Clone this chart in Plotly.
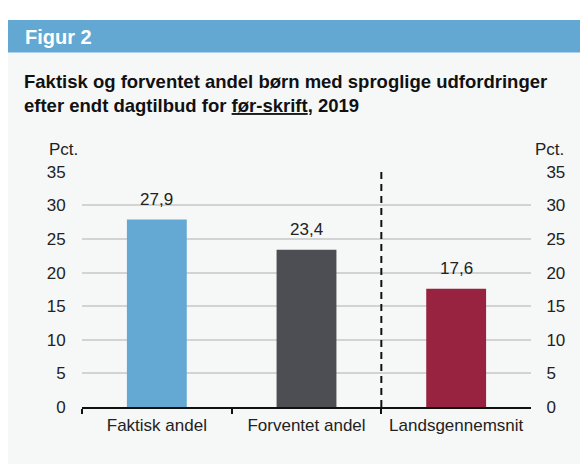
import plotly.graph_objects as go

categories = ["Faktisk andel", "Forventet andel", "Landsgennemsnit"]
values = [27.9, 23.4, 17.6]
value_labels = ["27,9", "23,4", "17,6"]
bar_colors = ["#63a9d4", "#4d4e53", "#982341"]
y_ticks = [0, 5, 10, 15, 20, 25, 30, 35]

# page body has an 8px margin; compensate so the picture lines up with the reference
OFF = 8
W, H = 588 - OFF, 474 - OFF

def px_x(x):
    return (x - OFF) / W

def px_y(y):
    return (H - (y - OFF)) / H

FONT = "Liberation Sans, Arial, sans-serif"
FS = 17

fig = go.Figure()
fig.add_trace(go.Bar(
    x=categories, y=values, marker=dict(color=bar_colors, line=dict(width=0)),
    width=0.4, hoverinfo="skip", showlegend=False,
))
fig.add_trace(go.Scatter(
    x=categories, y=values, yaxis="y2", mode="markers",
    marker=dict(opacity=0), hoverinfo="skip", showlegend=False,
))

for c, v, t in zip(categories, values, value_labels):
    fig.add_annotation(x=c, y=v, text=t, showarrow=False, yanchor="bottom",
                       yshift=9, font=dict(size=FS, color="#222222", family=FONT))

shapes = [
    dict(type="rect", xref="paper", yref="paper", x0=0, x1=1, y0=0, y1=px_y(45),
         fillcolor="#f6f8f8", line=dict(width=0), layer="below"),
    dict(type="rect", xref="paper", yref="paper", x0=0, x1=1, y0=px_y(45), y1=px_y(11),
         fillcolor="#62a8d3", line=dict(width=0), layer="below"),
    dict(type="line", xref="x", yref="y", x0=1.5, x1=1.5, y0=0, y1=35,
         line=dict(color="#111111", width=2, dash="7px,5px")),
]

annotations = [
    dict(xref="paper", yref="paper", x=px_x(23), y=px_y(29), xanchor="left", yanchor="middle",
         text="<b>Figur 2</b>", showarrow=False, font=dict(size=20, color="white", family=FONT)),
    dict(xref="paper", yref="paper", x=px_x(22), y=px_y(62), xanchor="left", yanchor="top",
         align="left", showarrow=False,
         text="<b>Faktisk og forventet andel børn med sproglige udfordringer<br>efter endt dagtilbud for <u>før-skrift</u>, 2019</b>",
         font=dict(size=18.5, color="#111111", family=FONT)),
    dict(xref="paper", yref="paper", x=px_x(47), y=px_y(146), xanchor="left", yanchor="middle",
         text="Pct.", showarrow=False, font=dict(size=FS, color="#222222", family=FONT)),
    dict(xref="paper", yref="paper", x=px_x(566), y=px_y(146), xanchor="right", yanchor="middle",
         text="Pct.", showarrow=False, font=dict(size=FS, color="#222222", family=FONT)),
]

fig.update_layout(
    width=W, height=H,
    margin=dict(l=0, r=0, t=0, b=0),
    paper_bgcolor="white",
    plot_bgcolor="rgba(0,0,0,0)",
    font=dict(family=FONT, size=FS, color="#222222"),
    shapes=shapes,
    xaxis=dict(
        domain=[px_x(82), px_x(531)], type="category",
        categoryorder="array", categoryarray=categories,
        showline=True, linecolor="#111111", linewidth=2,
        ticks="outside", ticklen=5, tickwidth=2, tickcolor="#111111",
        tickson="boundaries", showgrid=False, zeroline=False,
        ticklabelstandoff=2,
        tickfont=dict(size=FS, color="#222222"),
    ),
    yaxis=dict(
        domain=[px_y(414.5), px_y(169.5)], range=[0, 35],
        tickvals=y_ticks, ticktext=[str(t) for t in y_ticks],
        showgrid=True, gridcolor="#d3d3d3", gridwidth=1.5,
        zeroline=False, showline=False,
        ticks="outside", ticklen=12, tickcolor="rgba(0,0,0,0)",
        tickfont=dict(size=FS, color="#222222"),
    ),
    yaxis2=dict(
        overlaying="y", side="right", range=[0, 35],
        tickvals=y_ticks, ticktext=[str(t) for t in y_ticks],
        showgrid=False, zeroline=False, showline=False,
        ticks="outside", ticklen=11, tickcolor="rgba(0,0,0,0)",
        tickfont=dict(size=FS, color="#222222"),
    ),
    annotations=list(fig.layout.annotations) + annotations,
)

fig.write_html("out.html")
